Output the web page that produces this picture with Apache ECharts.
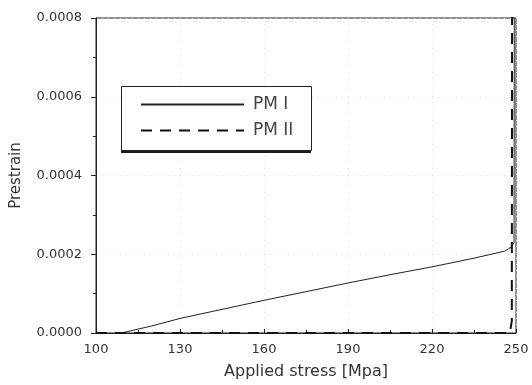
<!DOCTYPE html>
<html>
<head>
<meta charset="utf-8">
<script src="https://cdn.jsdelivr.net/npm/echarts@6/dist/echarts.min.js"></script>
<style>
  html, body { margin: 0; padding: 0; background: #fff; }
  #chart { width: 532px; height: 385px; }
</style>
</head>
<body>
<div id="chart"></div>
<script>
// Prestrain vs applied stress for two PM grades
const xTicks = [100, 130, 160, 190, 220, 250];
const yTicks = [0, 0.0002, 0.0004, 0.0006, 0.0008];
const seriesNames = ['PM I', 'PM II'];

// PM I: linear rise, then sharp vertical jump near 249 MPa
const pm1Stress = [109, 120, 130, 145, 160, 175, 190, 205, 220, 235, 246, 248.3, 249.3, 249.4];
const pm1Strain = [0, 0.000018, 0.000037, 0.00006, 0.000083, 0.000105, 0.000127, 0.000148, 0.000168, 0.00019, 0.000208, 0.000218, 0.00023, 0.00085];

// PM II: stays at zero, then jumps vertically near 248.6 MPa
const pm2Stress = [100, 247.8, 248.5, 248.6];
const pm2Strain = [0, 0, 0.00003, 0.00085];

const pairs = (xs, ys) => xs.map((x, i) => [x, ys[i]]);
const font = 'DejaVu Sans';

// legend frame: box with a heavy bottom edge
const legendBox = { x: 121, y: 86, w: 190, h: 64 };

const chart = echarts.init(document.getElementById('chart'), null, { renderer: 'canvas' });
chart.setOption({
  animation: false,
  backgroundColor: '#fff',
  grid: {
    left: 96, right: 16, top: 18, bottom: 50,
    show: true, borderColor: '#222', borderWidth: 1, backgroundColor: 'transparent'
  },
  graphic: [
    {
      type: 'rect', z: 5,
      shape: { x: legendBox.x, y: legendBox.y + 3, width: legendBox.w, height: legendBox.h },
      style: { fill: '#1a1a1a' }
    },
    {
      type: 'rect', z: 6,
      shape: { x: legendBox.x + 0.5, y: legendBox.y + 0.5, width: legendBox.w, height: legendBox.h },
      style: { fill: '#fff', stroke: '#222', lineWidth: 1 }
    }
  ],
  legend: {
    show: true, z: 10,
    orient: 'vertical',
    left: legendBox.x, top: legendBox.y,
    padding: [10, 15, 11, 19],
    itemWidth: 103, itemHeight: 14, itemGap: 9,
    itemStyle: { opacity: 0 },
    textStyle: { fontFamily: font, fontSize: 17, color: '#444', padding: [0, 0, 0, 4] },
    data: seriesNames
  },
  xAxis: {
    type: 'value', min: xTicks[0], max: xTicks[xTicks.length - 1], interval: 30,
    name: 'Applied stress [Mpa]', nameLocation: 'middle', nameGap: 31,
    nameTextStyle: { fontFamily: font, fontSize: 16, color: '#333' },
    axisLine: { show: true, lineStyle: { color: '#222', width: 1 } },
    axisTick: { show: true, inside: true, length: 4, lineStyle: { color: '#222' } },
    minorTick: { show: true, splitNumber: 2, length: 3, lineStyle: { color: '#222' } },
    axisLabel: { fontFamily: font, fontSize: 13, color: '#333', margin: 10 },
    splitLine: { show: true, lineStyle: { color: '#dedede', type: [1, 5], width: 1 } }
  },
  yAxis: {
    type: 'value', min: yTicks[0], max: yTicks[yTicks.length - 1], interval: 0.0002,
    name: 'Prestrain', nameLocation: 'middle', nameGap: 72,
    nameTextStyle: { fontFamily: font, fontSize: 15, color: '#333' },
    axisLine: { show: true, lineStyle: { color: '#222', width: 1 } },
    axisTick: { show: true, inside: false, length: 5, lineStyle: { color: '#222' } },
    minorTick: { show: true, splitNumber: 2, length: 3, lineStyle: { color: '#222' } },
    axisLabel: { fontFamily: font, fontSize: 13, color: '#333', margin: 14, formatter: v => v.toFixed(4) },
    splitLine: { show: true, lineStyle: { color: '#dedede', type: [1, 5], width: 1 } }
  },
  series: [
    {
      name: seriesNames[0], type: 'line', symbol: 'none', z: 3,
      data: pairs(pm1Stress, pm1Strain),
      itemStyle: { color: '#222' },
      lineStyle: { color: '#222', width: 1, type: 'solid' }
    },
    {
      name: seriesNames[1], type: 'line', symbol: 'none', z: 4,
      data: pairs(pm2Stress, pm2Strain),
      itemStyle: { color: '#111' },
      lineStyle: { color: '#111', width: 2, type: [11, 8] }
    }
  ]
});
</script>
</body>
</html>
